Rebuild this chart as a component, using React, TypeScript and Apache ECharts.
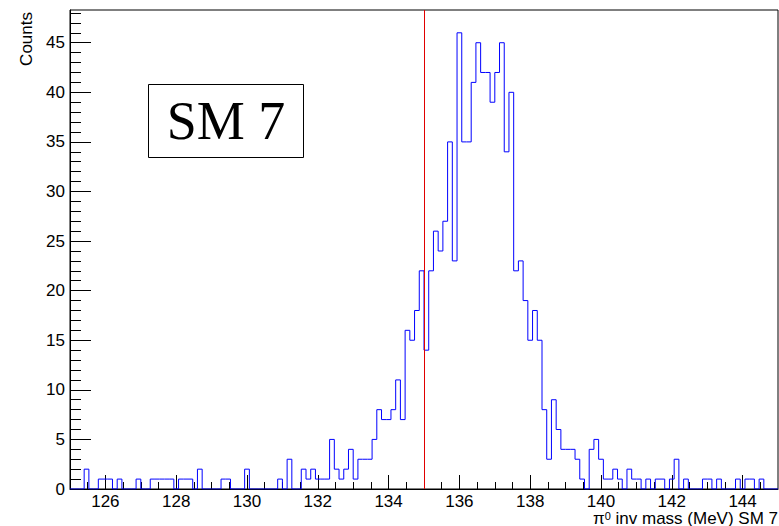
import { useEffect, useRef } from "react";
import * as echarts from "echarts";

// Histogram binning: 150 bins between 125 and 145 MeV
const X_MIN = 125;
const X_MAX = 145;
const N_BINS = 150;

// Entries per bin
const counts = [
  0, 0, 0, 2, 0, 0, 1, 1, 1, 0,
  1, 0, 0, 0, 1, 0, 0, 1, 1, 1,
  1, 1, 0, 1, 1, 1, 0, 2, 0, 0,
  0, 0, 1, 1, 0, 0, 0, 2, 0, 0,
  0, 0, 0, 0, 1, 0, 3, 0, 0, 2,
  1, 2, 1, 1, 1, 5, 2, 1, 2, 4,
  1, 3, 3, 3, 5, 8, 7, 7, 8, 11,
  7, 16, 15, 18, 22, 14, 22, 26, 24, 27,
  35, 23, 46, 35, 35, 41, 45, 42, 42, 39,
  42, 45, 34, 40, 22, 23, 19, 15, 18, 15,
  8, 3, 9, 6, 4, 4, 4, 3, 1, 0,
  4, 5, 3, 1, 1, 2, 1, 0, 2, 1,
  1, 0, 1, 0, 1, 1, 0, 1, 3, 0,
  1, 0, 0, 0, 1, 1, 0, 1, 0, 0,
  0, 1, 0, 1, 1, 0, 1, 0, 0, 0,
];

const xMajorTicks = [126, 128, 130, 132, 134, 136, 138, 140, 142, 144];
const yMajorTicks = [0, 5, 10, 15, 20, 25, 30, 35, 40, 45];
const markerMass = 135;
const boxLabel = "SM 7";
const yTitle = "Counts";

const SANS = '"Liberation Sans", Arial, Helvetica, sans-serif';

export default function App() {
  const ref = useRef<HTMLDivElement>(null);

  useEffect(() => {
    if (!ref.current) return;
    const chart = echarts.init(ref.current, null, { renderer: "svg" });

    const binWidth = (X_MAX - X_MIN) / N_BINS;
    // step outline: each bin contributes its left and right edge at its height
    const outline: number[][] = [];
    counts.forEach((c, i) => {
      outline.push([X_MIN + i * binWidth, c], [X_MIN + (i + 1) * binWidth, c]);
    });
    const yMax = Math.max(...counts) * 1.05;

    const xMinor: number[] = [];
    for (let v = X_MIN + 0.5; v < X_MAX; v += 0.5) xMinor.push(v);
    const yMinor: number[] = [];
    for (let v = 1; v < yMax; v += 1) yMinor.push(v);

    const black = "#000";

    chart.setOption({
      animation: false,
      backgroundColor: "#fff",
      textStyle: { fontFamily: SANS },
      grid: {
        left: 70,
        top: 10,
        right: 1,
        bottom: 37,
        show: true,
        borderColor: black,
        borderWidth: 1,
        backgroundColor: "#fff",
      },
      xAxis: [
        {
          type: "value",
          min: X_MIN,
          max: X_MAX,
          position: "bottom",
          axisLine: { show: true, onZero: false, lineStyle: { color: black, width: 1 } },
          axisTick: {
            show: true,
            inside: true,
            length: 14,
            customValues: xMajorTicks,
            lineStyle: { color: black, width: 1 },
          },
          axisLabel: {
            customValues: xMajorTicks,
            margin: 5,
            fontSize: 17,
            lineHeight: 15,
            color: black,
            fontFamily: SANS,
          },
          splitLine: { show: false },
        },
        {
          type: "value",
          min: X_MIN,
          max: X_MAX,
          position: "bottom",
          axisLine: { show: false },
          axisTick: {
            show: true,
            inside: true,
            length: 7,
            customValues: xMinor,
            lineStyle: { color: black, width: 1 },
          },
          axisLabel: { show: false },
          splitLine: { show: false },
        },
      ],
      yAxis: [
        {
          type: "value",
          min: 0,
          max: yMax,
          position: "left",
          axisLine: { show: true, onZero: false, lineStyle: { color: black, width: 1 } },
          axisTick: {
            show: true,
            inside: true,
            length: 21,
            customValues: yMajorTicks,
            lineStyle: { color: black, width: 1 },
          },
          axisLabel: {
            customValues: yMajorTicks,
            margin: 5,
            fontSize: 17,
            color: black,
            fontFamily: SANS,
          },
          splitLine: { show: false },
        },
        {
          type: "value",
          min: 0,
          max: yMax,
          position: "left",
          axisLine: { show: false },
          axisTick: {
            show: true,
            inside: true,
            length: 11,
            customValues: yMinor,
            lineStyle: { color: black, width: 1 },
          },
          axisLabel: { show: false },
          splitLine: { show: false },
        },
      ],
      series: [
        {
          type: "line",
          xAxisIndex: 0,
          yAxisIndex: 0,
          data: outline,
          showSymbol: false,
          symbol: "none",
          lineStyle: { color: "#0000ff", width: 1 },
          emphasis: { disabled: true },
          silent: true,
          z: 3,
          markLine: {
            silent: true,
            symbol: ["none", "none"],
            label: { show: false },
            lineStyle: { color: "#e00000", type: "solid", width: 1 },
            data: [{ xAxis: markerMass }],
          },
        },
      ],
      graphic: [
        {
          type: "rect",
          shape: { x: 148.5, y: 84.5, width: 155, height: 73 },
          style: { fill: "#fff", stroke: black, lineWidth: 1 },
          z: 100,
        },
        {
          type: "text",
          x: 226,
          y: 121,
          style: {
            text: boxLabel,
            fontSize: 54,
            fontFamily: '"Liberation Serif", "Times New Roman", serif',
            fill: black,
            align: "center",
            verticalAlign: "middle",
          },
          z: 101,
        },
        {
          type: "text",
          x: 26,
          y: 12,
          rotation: Math.PI / 2,
          style: {
            text: yTitle,
            fontSize: 17,
            fontFamily: SANS,
            fill: black,
            align: "right",
            verticalAlign: "middle",
          },
          z: 100,
        },
        {
          type: "text",
          x: 778,
          y: 518,
          style: {
            text: "{p|π}{s|0}{t| inv mass (MeV) SM 7}",
            align: "right",
            verticalAlign: "middle",
            fill: black,
            rich: {
              p: { fontSize: 17, fontFamily: SANS, fill: black, lineHeight: 15 },
              s: { fontSize: 11, fontFamily: SANS, fill: black, verticalAlign: "top", lineHeight: 9 },
              t: { fontSize: 17, fontFamily: SANS, fill: black, lineHeight: 15 },
            },
          },
          z: 100,
        },
      ],
    });

    return () => chart.dispose();
  }, []);

  return (
    <div
      ref={ref}
      style={{ position: "absolute", left: 0, top: 0, width: 779, height: 526 }}
    />
  );
}
